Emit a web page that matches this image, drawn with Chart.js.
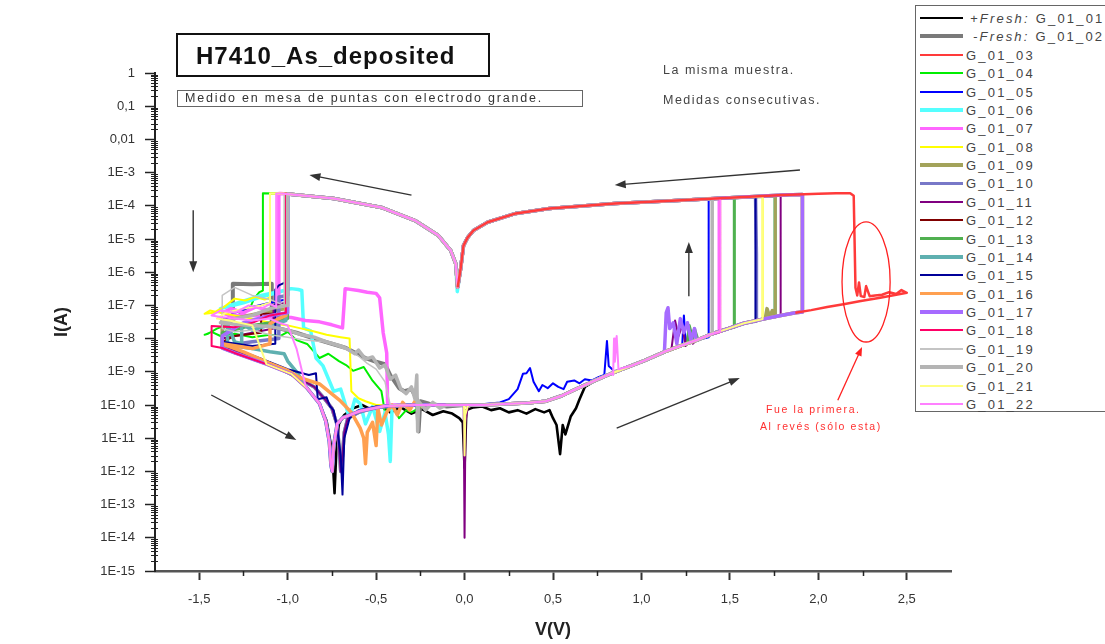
<!DOCTYPE html>
<html>
<head>
<meta charset="utf-8">
<script src="https://cdn.jsdelivr.net/npm/chart.js@4.4.0/dist/chart.umd.min.js"></script>
<style>
  html, body { margin: 0; padding: 0; background: #fff; overflow: hidden; }
  #wrap { position: relative; width: 1105px; height: 644px; font-family: "Liberation Sans", Arial, sans-serif; }
  #wrap canvas { position: absolute; left: 0; top: 0; }
  .note { position: absolute; white-space: nowrap; color: #333; line-height: 1; }
  #title { left: 176px; top: 33px; width: 310px; height: 40px; border: 2px solid #111; font-weight: bold; font-size: 24px; letter-spacing: 1px; color: #111; }
  #title span { position: absolute; left: 18px; top: 9px; }
  #sub { left: 177px; top: 90px; width: 404px; height: 15px; border: 1.5px solid #666; font-size: 12.5px; letter-spacing: 1.8px; }
  #sub span { position: absolute; left: 7px; top: 1px; }
  .grey { font-size: 12.5px; letter-spacing: 1.5px; color: #444; }
  .red { font-size: 10.5px; letter-spacing: 1.6px; color: #ff3030; }
  #legend { position: absolute; left: 915px; top: 5px; width: 200px; height: 405px; border: 1.5px solid #666; background: #fff; }
  .row { position: absolute; left: 0; height: 18px; width: 200px; }
  .row .smp { position: absolute; left: 4px; width: 43px; }
  .row .txt { position: absolute; left: 50px; top: 2px; font-size: 13px; letter-spacing: 2.2px; color: #444; white-space: nowrap; }
</style>
</head>
<body>
<div id="wrap">
  <canvas id="c" width="1105" height="644"></canvas>
  <div id="title" class="note"><span>H7410_As_deposited</span></div>
  <div id="sub" class="note"><span>Medido en mesa de puntas con electrodo grande.</span></div>
  <div class="note grey" style="left:663px; top:64px;">La misma muestra.</div>
  <div class="note grey" style="left:663px; top:94px;">Medidas consecutivas.</div>
  <div class="note red" style="left:766px; top:404px;">Fue la primera.</div>
  <div class="note red" style="left:760px; top:421px;">Al revés (sólo esta)</div>
  <div id="legend"></div>
</div>
<script>
// ---- tick labels ----
const xTicks = [-1.5, -1.0, -0.5, 0.0, 0.5, 1.0, 1.5, 2.0, 2.5];
const yTickValues = [1e-15, 1e-14, 1e-13, 1e-12, 1e-11, 1e-10, 1e-9, 1e-8, 1e-7, 1e-6, 1e-5, 1e-4, 1e-3, 0.01, 0.1, 1];
const yTickLabels = ['1E-15', '1E-14', '1E-13', '1E-12', '1E-11', '1E-10', '1E-9', '1E-8', '1E-7', '1E-6', '1E-5', '1E-4', '1E-3', '0,01', '0,1', '1'];

// ---- shared branches, [V, I] ----
const offPos = [[0,1.0e-10],[0.1,1.0e-10],[0.2,1.05e-10],[0.35,1.15e-10],[0.46,1.3e-10],[0.55,1.9e-10],[0.64,3.2e-10],[0.74,5.5e-10],[0.83,8.9e-10],[0.94,1.5e-9],[1.02,2.2e-9],[1.13,4.0e-9],[1.22,6.0e-9],[1.31,8.9e-9],[1.4,1.4e-8],[1.49,2.0e-8],[1.58,2.9e-8],[1.68,3.8e-8],[1.78,4.9e-8],[1.87,6.0e-8],[1.96,7.2e-8],[2.05,8.9e-8],[2.15,1.1e-7],[2.24,1.35e-7],[2.35,1.7e-7],[2.5,2.4e-7]];
const onPos = [[2.1,2.4e-4],[2.0,2.3e-4],[1.8,2.1e-4],[1.5,1.75e-4],[1.2,1.45e-4],[0.85,1.17e-4],[0.48,8.3e-5],[0.29,5.9e-5],[0.13,3.2e-5],[0.05,1.8e-5],[0.017,1.1e-5],[-0.006,6.3e-6],[-0.022,1.3e-6],[-0.039,3.5e-7]];
const onNeg = [[-0.05,1.8e-6],[-0.078,4.5e-6],[-0.15,1.3e-5],[-0.28,3.6e-5],[-0.47,8.9e-5],[-0.74,1.66e-4],[-0.9,2.0e-4],[-1.04,2.35e-4],[-1.15,2.4e-4]];
const retEnv = [[-1.37,5.2e-9],[-1.3,3.7e-9],[-1.12,1.7e-9],[-0.98,8.7e-10],[-0.89,3.2e-10],[-0.82,1.1e-10],[-0.785,3.3e-11],[-0.765,8e-12],[-0.755,1.5e-12],[-0.748,1e-12],[-0.74,6e-12],[-0.72,2.7e-11],[-0.69,4.1e-11],[-0.59,6.6e-11],[-0.45,9.3e-11],[-0.28,1.0e-10],[0,1.0e-10]];
const retShift = [[-1.37,6e-9],[-1.25,3.5e-9],[-1.1,1.8e-9],[-0.95,7e-10],[-0.85,3.5e-10],[-0.79,1.5e-10],[-0.75,8e-11],[-0.72,2.5e-11],[-0.71,6e-12],[-0.7,1e-12],[-0.69,3e-12],[-0.68,1.5e-11],[-0.66,4e-11],[-0.6,6e-11],[-0.5,8.5e-11],[-0.3,1e-10],[0,1e-10]];

// ---- per-measurement pieces ----
const fresh01 = [[-1.37,8e-9],[-1.3,4.5e-9],[-1.12,1.8e-9],[-0.98,8.7e-10],[-0.89,3.2e-10],[-0.82,1.1e-10],[-0.78,3.3e-11],[-0.756,6.6e-12],[-0.744,1.7e-12],[-0.735,2.2e-13],[-0.725,4e-12],[-0.71,2.7e-11],[-0.68,5e-11],[-0.63,8e-11],[-0.58,1e-10],[-0.52,7e-11],[-0.47,9e-11],[-0.42,6e-11],[-0.36,8.5e-11],[-0.3,5.5e-11],[-0.24,7.5e-11],[-0.18,5e-11],[-0.12,6.5e-11],[-0.07,5.5e-11],[-0.03,4e-11],[-0.01,3e-11],[0,1.3e-12],[0.01,7e-11],[0.05,8.5e-11],[0.1,9e-11],[0.15,7e-11],[0.2,8e-11],[0.25,6e-11],[0.3,7e-11],[0.35,5.5e-11],[0.4,7.5e-11],[0.45,6e-11],[0.48,7e-11],[0.5,4e-11],[0.52,2.5e-11],[0.54,3.3e-12],[0.555,2.5e-11],[0.57,1.3e-11],[0.6,4.5e-11],[0.63,8e-11],[0.65,1.5e-10],[0.68,3.5e-10],[0.74,5.5e-10]];
const fresh02 = [[0,1e-10],[-0.1,9e-11],[-0.2,1.1e-10],[-0.25,1.3e-10],[-0.26,1.6e-11],[-0.27,1.5e-10],[-0.3,3e-10],[-0.34,2.6e-10],[-0.37,3.2e-10],[-0.42,8e-10],[-0.45,1.7e-9],[-0.5,2e-9],[-0.56,2.6e-9],[-0.62,3.8e-9],[-0.67,5.2e-9],[-0.75,7e-9],[-0.85,1e-8],[-0.95,1.5e-8],[-1.06,2.1e-8],[-1.09,2.5e-8],[-1.09,4.5e-7],[-1.2,4.3e-7],[-1.31,4.5e-7],[-1.31,4.3e-8],[-1.38,3.5e-8]];
const back03 = [[2.47,2.9e-7],[2.44,2.2e-7],[2.4,2.5e-7],[2.36,2.1e-7],[2.32,2e-7],[2.29,1.9e-7],[2.27,3.8e-7],[2.26,1.8e-7],[2.24,1.9e-7],[2.23,4.9e-7],[2.22,2e-7],[2.21,3.4e-7],[2.2,2e-4],[2.18,2.4e-4],[2.1,2.4e-4]];
const set04 = [[1.525,2.2e-8],[1.525,1.75e-4]];
const reset04 = [[-1.14,2.4e-4],[-1.14,2.8e-7],[-1.16,2.5e-7],[-1.19,1.6e-7],[-1.21,9e-8],[-1.25,7e-8],[-1.3,4e-8],[-1.35,2.5e-8],[-1.4,2e-8],[-1.45,1.4e-8],[-1.47,1.3e-8],[-1.43,1.6e-8],[-1.38,1.2e-8],[-1.3,1.4e-8],[-1.2,1.1e-8],[-1.1,1.3e-8],[-1.04,1.2e-8],[-1.0,1.6e-8],[-0.95,9e-9],[-0.89,6.9e-9],[-0.85,4e-9],[-0.82,2.6e-9],[-0.77,3.5e-9],[-0.71,2.1e-9],[-0.67,1.6e-9],[-0.63,1.07e-9],[-0.57,1.4e-9],[-0.52,5.4e-10],[-0.47,2.6e-10],[-0.45,6e-11],[-0.41,1e-10],[-0.37,4e-11],[-0.33,7e-11],[-0.3,6e-11],[-0.23,1e-10],[0,1e-10]];
const low05 = [[0,1e-10],[0.1,1.05e-10],[0.2,1.2e-10],[0.25,1.5e-10],[0.3,3e-10],[0.33,8.7e-10],[0.35,9e-10],[0.37,1.3e-9],[0.39,5e-10],[0.42,2.6e-10],[0.44,4e-10],[0.47,3.2e-10],[0.5,4.5e-10],[0.53,3.5e-10],[0.56,3e-10],[0.58,5e-10],[0.62,5.5e-10],[0.65,4.5e-10],[0.68,6e-10],[0.72,5.5e-10],[0.76,7e-10],[0.79,8e-10],[0.805,8.5e-9],[0.815,1.5e-9],[0.85,1e-9]];
const noise05 = [[1.23,6e-9],[1.24,5e-8],[1.25,8e-9]];
const set05 = [[1.38,1.1e-8],[1.38,1.6e-4]];
const reset05 = [[-1.01,2.3e-4],[-1.01,1.5e-7],[-1.1,1.2e-7],[-1.2,9e-8],[-1.3,6e-8],[-1.37,3e-8]];
const set06 = [[1.756,4.6e-8],[1.756,2e-4]];
const dip06 = [[-0.041,2.6e-7]];
const reset06 = [[-1.0,2.25e-4],[-1.0,3e-7],[-1.05,2.5e-7],[-1.15,1.8e-7],[-1.25,1.2e-7],[-1.38,8e-8],[-1.3,1.1e-7],[-1.15,2e-7],[-1.02,2.8e-7],[-0.98,3.2e-7],[-0.94,3e-7],[-0.92,2.8e-7],[-0.91,2.1e-8],[-0.87,1.7e-8],[-0.84,2.6e-9],[-0.8,1.5e-9],[-0.74,2.6e-10],[-0.7,3e-10],[-0.65,4e-11],[-0.62,1.5e-10],[-0.59,1.1e-10],[-0.56,2.7e-11],[-0.52,9e-11],[-0.48,1.6e-11],[-0.45,6e-11],[-0.43,1.3e-11],[-0.42,2e-12],[-0.41,8e-11],[-0.38,1e-10],[0,1e-10]];
const set07 = [[1.44,1.6e-8],[1.44,1.7e-4]];
const reset07 = [[-1.05,2.35e-4],[-1.05,9e-8],[-1.1,7e-8],[-1.18,9e-8],[-1.25,6e-8],[-1.32,8e-8],[-1.37,6e-8],[-1.33,5e-8],[-1.2,5e-8],[-1.05,4.5e-8],[-0.98,4.3e-8],[-0.9,3.5e-8],[-0.82,3.2e-8],[-0.75,2.6e-8],[-0.69,2.1e-8],[-0.675,3.2e-7],[-0.6,2.8e-7],[-0.55,2.5e-7],[-0.5,2.3e-7],[-0.48,1.7e-7],[-0.46,1.5e-8],[-0.44,3.7e-9],[-0.435,1e-10],[0,1e-10]];
const set08 = [[1.685,3.9e-8],[1.685,1.9e-4]];
const reset08 = [[-1.1,2.35e-4],[-1.1,1.7e-7],[-1.13,1.5e-7],[-1.18,1.8e-7],[-1.24,1.4e-7],[-1.3,1.6e-7],[-1.36,9e-8],[-1.42,6e-8],[-1.47,5.6e-8],[-1.44,7e-8],[-1.38,6e-8],[-1.3,5e-8],[-1.2,4e-8],[-1.1,3e-8],[-1.0,2.5e-8],[-0.92,2e-8],[-0.86,1.7e-8],[-0.78,1.3e-8],[-0.7,1.1e-8],[-0.65,1e-8],[-0.64,2.6e-10],[-0.6,1.6e-10],[-0.56,1.3e-10],[-0.5,1e-10],[0,1e-10]];
const noise09 = [[1.7,4e-8],[1.71,8e-8],[1.725,4.5e-8],[1.74,7e-8]];
const set09 = [[1.756,4.6e-8],[1.756,2e-4]];
const reset09 = [[-1.01,2.3e-4],[-1.01,8e-8],[-1.15,6e-8],[-1.3,4e-8],[-1.37,2e-8]];
const set10 = [[1.65,3.4e-8],[1.65,3.6e-6],[1.645,1.88e-4]];
const reset10 = [[-1.0,2.25e-4],[-1.0,2e-7],[-1.05,1.8e-7],[-1.05,1e-8],[-1.2,8e-9],[-1.37,6e-9]];
const start11 = [[-0.005,1e-10],[0,1e-14],[0.005,3e-11],[0.02,1e-10]];
const noise11 = [[1.17,5e-9],[1.19,3.5e-8],[1.21,1.2e-8],[1.23,2.5e-8],[1.25,6e-9],[1.27,2e-8],[1.29,7e-9]];
const set11 = [[1.787,5e-8],[1.787,2e-4]];
const reset11 = [[-1.01,2.3e-4],[-1.01,1.2e-7],[-1.08,1e-7],[-1.08,2e-8],[-1.2,1.5e-8],[-1.37,1e-8]];
const set12 = [[1.91,6.3e-8],[1.91,2.2e-4]];
const reset12 = [[-1.01,2.3e-4],[-1.01,5.6e-8],[-1.15,5.6e-8],[-1.15,1.5e-8],[-1.3,1.2e-8],[-1.37,8e-9]];
const noise13 = [[1.26,7e-9],[1.27,2.5e-8],[1.29,1e-8],[1.3,2e-8],[1.32,9e-9]];
const set13 = [[1.525,2.2e-8],[1.525,1.75e-4]];
const reset13 = [[-1.0,2.25e-4],[-1.0,4e-8],[-1.1,3e-8],[-1.2,2.5e-8],[-1.37,1.5e-8]];
const set14 = [[1.91,6.3e-8],[1.91,2.2e-4]];
const reset14 = [[-1.01,2.3e-4],[-1.01,3.5e-8],[-1.05,3e-8],[-1.1,2.5e-8],[-1.15,2.2e-8],[-1.2,1.8e-8],[-1.26,2.8e-8],[-1.26,7e-9],[-1.3,8e-9],[-1.34,2.8e-8],[-1.34,7e-9],[-1.37,6e-9],[-1.3,6e-9],[-1.2,5e-9],[-1.1,4e-9],[-1.02,3.5e-9],[-1.0,2.1e-9],[-0.95,1e-9]];
const set15 = [[1.645,3.3e-8],[1.645,1.88e-4]];
const reset15 = [[-1.01,2.3e-4],[-1.01,5e-7],[-1.05,4e-7],[-1.07,3e-7],[-1.07,7e-9],[-1.2,6e-9],[-1.37,8e-9],[-1.3,5e-9],[-1.15,2.5e-9],[-1.0,1.2e-9],[-0.88,8e-10],[-0.84,9e-10],[-0.83,1.5e-10],[-0.78,1.7e-10],[-0.76,9e-11],[-0.74,7e-11],[-0.72,2e-11],[-0.7,3e-12],[-0.69,2e-13],[-0.68,1e-11],[-0.65,4e-11],[-0.6,7e-11],[-0.5,9e-11],[0,1e-10]];
const set16 = [[1.91,6.3e-8],[1.91,2.2e-4]];
const reset16 = [[-1.01,2.3e-4],[-1.01,5e-8],[-1.05,4e-8],[-1.1,2.8e-8],[-1.1,7e-9],[-1.2,5e-9],[-1.37,7e-9],[-1.25,4e-9],[-1.1,1.8e-9],[-1.0,1.1e-9],[-0.93,6.6e-10],[-0.82,4.3e-10],[-0.7,1.3e-10],[-0.64,6e-11],[-0.59,2e-11],[-0.57,1e-11],[-0.56,1.7e-12],[-0.55,1.5e-11],[-0.52,3e-11],[-0.5,6e-12],[-0.49,8e-11],[-0.47,2.5e-11],[-0.44,6e-11],[-0.41,1e-10],[-0.38,5e-11],[-0.35,1.2e-10],[-0.31,7e-11],[-0.28,1.3e-10],[-0.24,9e-11],[-0.2,1e-10],[0,1e-10]];
const noise17 = [[1.14,6e-8],[1.15,8.5e-8],[1.16,2e-8],[1.18,3e-8],[1.2,7e-9],[1.22,4e-8],[1.24,1.5e-8],[1.26,3e-8],[1.28,9e-9],[1.3,2e-8]];
const set17 = [[1.91,6.3e-8],[1.91,2.2e-4]];
const reset17 = [[-1.0,2.25e-4],[-1.0,6e-8],[-1.1,5e-8],[-1.25,3e-8],[-1.37,1.2e-8]];
const set18 = [[1.445,1.6e-8],[1.445,1.7e-4]];
const reset18 = [[-1.01,2.3e-4],[-1.01,6e-8],[-1.1,5e-8],[-1.2,3e-8],[-1.3,2.2e-8],[-1.43,2.4e-8],[-1.43,6e-9],[-1.37,5.2e-9]];
const set19 = [[1.4,1.4e-8],[1.4,1.65e-4]];
const reset19 = [[-1.02,2.3e-4],[-1.02,1e-7],[-1.1,1.5e-7],[-1.2,2e-7],[-1.3,3.5e-7],[-1.37,2e-7],[-1.37,2e-8],[-1.3,1.6e-8],[-1.2,1.8e-8],[-1.1,1.3e-8],[-1.0,1.1e-8],[-0.9,9e-9],[-0.8,8e-9],[-0.72,6e-9],[-0.66,4.5e-9],[-0.6,3e-9],[-0.55,1.8e-9],[-0.5,1.2e-9],[-0.45,5e-10],[-0.42,1e-10],[0,1e-10]];
const set20 = [[1.4,1.4e-8],[1.4,1.65e-4]];
const reset20 = [[-1.0,2.25e-4],[-1.0,1e-7],[-1.1,8e-8],[-1.2,5e-8],[-1.3,4e-8],[-1.38,3e-8],[-1.3,2.7e-8],[-1.2,2.5e-8],[-1.1,2.3e-8],[-1.0,1.8e-8],[-0.92,1.3e-8],[-0.85,1.1e-8],[-0.78,8e-9],[-0.7,6e-9],[-0.66,4.8e-9],[-0.62,3.5e-9],[-0.6,4.5e-9],[-0.56,2.4e-9],[-0.52,2.8e-9],[-0.48,1.3e-9],[-0.45,1.6e-9],[-0.42,6e-10],[-0.39,8e-10],[-0.36,3e-10],[-0.33,2.2e-10],[-0.3,3.5e-10],[-0.28,1.5e-10],[-0.27,8e-10],[-0.265,1.6e-11],[-0.26,1.3e-10],[-0.22,7e-11],[-0.18,1.2e-10],[-0.14,8e-11],[-0.1,1e-10],[0,1e-10]];
const start21 = [[-0.003,1e-10],[0,3e-12],[0.004,5e-11],[0.02,1e-10]];
const set21 = [[1.685,3.9e-8],[1.685,1.9e-4]];
const reset21 = [[-1.1,2.35e-4],[-1.1,1.2e-7],[-1.15,1e-7],[-1.25,8e-8],[-1.35,6e-8],[-1.4,4e-8],[-1.33,3.5e-8],[-1.2,2.5e-8]];
const spike22 = [[0.84,8e-10],[0.845,1e-8],[0.85,2e-9],[0.86,1.2e-8],[0.87,1.2e-9]];
const set22 = [[1.445,1.6e-8],[1.445,1.7e-4]];
const reset22 = [[-1.065,2.35e-4],[-1.065,9e-8],[-1.1,1.1e-7],[-1.15,8e-8],[-1.22,1e-7],[-1.3,6e-8],[-1.38,7e-8],[-1.43,5e-8],[-1.38,4.5e-8],[-1.3,4e-8],[-1.2,3.5e-8],[-1.1,4e-8],[-1.05,3e-8],[-1.0,2.5e-8],[-0.95,5e-9],[-0.9,4e-10]];

// ---- legend names and styles ----
const names = ['+Fresh: G_01_01', '-Fresh: G_01_02', 'G_01_03', 'G_01_04', 'G_01_05', 'G_01_06', 'G_01_07', 'G_01_08', 'G_01_09', 'G_01_10', 'G_01_11', 'G_01_12', 'G_01_13', 'G_01_14', 'G_01_15', 'G_01_16', 'G_01_17', 'G_01_18', 'G_01_19', 'G_01_20', 'G_01_21', 'G_01_22'];
const colors = ['#000000', '#7a7a7a', '#ff3a3a', '#00ee00', '#0000ff', '#55ffff', '#ff66ff', '#ffff00', '#a3a35a', '#7878c8', '#800080', '#800000', '#50b050', '#5fb0b0', '#000099', '#ffa050', '#a66bff', '#ff0066', '#c4c4c4', '#b4b4b4', '#ffff80', '#ff80ff'];
const widths = [2.6, 4, 2.5, 2, 2, 3.5, 3.5, 2, 3.5, 3.5, 2, 2, 3, 3.5, 2, 3.5, 3.5, 2, 1.5, 3.5, 2, 2];

// arrows and the red ellipse, in data units [V0, I0, V1, I1]
const arrows = [[-0.30, 2.1e-4, -0.877, 8.5e-4], [1.896, 1.2e-3, 0.849, 4.2e-4], [-1.534, 7.4e-5, -1.534, 1.0e-6], [1.268, 1.9e-7, 1.268, 8.1e-6], [-1.432, 2e-10, -0.951, 8.9e-12], [0.86, 2e-11, 1.556, 6.5e-10]];
const redArrow = [2.11, 1.4e-10, 2.247, 5.6e-9];
const ellipseBox = [2.134, 2.406, 7.9e-9, 3.3e-5];

function seg(arr, lo, hi) { return arr.filter(p => p[0] >= lo && p[0] <= hi); }

const paths = [
  [...fresh01, ...seg(offPos, 0.8, 1.31)],
  fresh02,
  [...seg(offPos, 1.85, 2.5), ...back03, ...seg(onPos, -0.04, 2.05)],
  [...seg(offPos, 0, 1.49), ...set04, ...seg(onPos, -0.04, 1.52), ...seg(onNeg, -1.13, 0), ...reset04],
  [...low05, ...seg(offPos, 0.9, 1.22), ...noise05, ...seg(offPos, 1.3, 1.31), ...set05, ...seg(onPos, -0.04, 1.37), ...seg(onNeg, -1.0, 0), ...reset05, ...retEnv],
  [...seg(offPos, 0, 1.68), ...set06, ...seg(onPos, -0.03, 1.75), ...dip06, ...seg(onNeg, -0.99, 0), ...reset06],
  [...seg(offPos, 0, 1.4), ...set07, ...seg(onPos, -0.04, 1.43), ...seg(onNeg, -1.045, 0), ...reset07],
  [...seg(offPos, 0, 1.68), ...set08, ...seg(onPos, -0.04, 1.68), ...seg(onNeg, -1.09, 0), ...reset08],
  [...seg(offPos, 0, 1.68), ...noise09, ...set09, ...seg(onPos, -0.04, 1.75), ...seg(onNeg, -1.0, 0), ...reset09, ...retShift],
  [...seg(offPos, 0, 1.58), ...set10, ...seg(onPos, -0.04, 1.64), ...seg(onNeg, -0.99, 0), ...reset10, ...retShift],
  [...start11, ...seg(offPos, 0.1, 1.13), ...noise11, ...seg(offPos, 1.31, 1.78), ...set11, ...seg(onPos, -0.04, 1.78), ...seg(onNeg, -1.0, 0), ...reset11, ...retShift],
  [...seg(offPos, 0, 1.87), ...set12, ...seg(onPos, -0.04, 1.9), ...seg(onNeg, -1.0, 0), ...reset12, ...retEnv],
  [...seg(offPos, 0, 1.22), ...noise13, ...seg(offPos, 1.4, 1.49), ...set13, ...seg(onPos, -0.04, 1.52), ...seg(onNeg, -0.99, 0), ...reset13, ...retEnv],
  [...seg(offPos, 0, 1.87), ...set14, ...seg(onPos, -0.04, 1.9), ...seg(onNeg, -1.0, 0), ...reset14, ...seg(retEnv, -0.89, 0)],
  [...seg(offPos, 0, 1.58), ...set15, ...seg(onPos, -0.04, 1.64), ...seg(onNeg, -1.0, 0), ...reset15],
  [...seg(offPos, 0, 1.87), ...set16, ...seg(onPos, -0.04, 1.9), ...seg(onNeg, -1.0, 0), ...reset16],
  [...seg(offPos, 0, 1.13), ...noise17, ...seg(offPos, 1.31, 1.87), ...set17, ...seg(onPos, -0.04, 1.9), ...seg(onNeg, -0.99, 0), ...reset17, ...retEnv],
  [...seg(offPos, 0, 1.4), ...set18, ...seg(onPos, -0.04, 1.44), ...seg(onNeg, -1.0, 0), ...reset18, ...seg(retEnv, -1.3, 0)],
  [...seg(offPos, 0, 1.31), ...set19, ...seg(onPos, -0.04, 1.39), ...seg(onNeg, -1.01, 0), ...reset19],
  [...seg(offPos, 0, 1.31), ...set20, ...seg(onPos, -0.04, 1.39), ...seg(onNeg, -0.99, 0), ...reset20],
  [...start21, ...seg(offPos, 0.1, 1.68), ...set21, ...seg(onPos, -0.04, 1.68), ...seg(onNeg, -1.09, 0), ...reset21, ...seg(retEnv, -1.12, 0)],
  [...seg(offPos, 0, 0.83), ...spike22, ...seg(offPos, 0.94, 1.4), ...set22, ...seg(onPos, -0.04, 1.44), ...seg(onNeg, -1.05, 0), ...reset22, ...seg(retEnv, -0.89, 0)]
];

const datasets = names.map((n, i) => ({
  label: n,
  data: paths[i].map(p => ({ x: p[0], y: p[1] })),
  showLine: true,
  borderColor: colors[i],
  backgroundColor: colors[i],
  borderWidth: widths[i],
  borderJoinStyle: 'round',
  pointRadius: 0,
  tension: 0,
  // later measurements on top, the first one (G_01_03) above all
  order: i === 2 ? 0 : 100 - i
}));

const FONT = '"Liberation Sans", Arial, sans-serif';

function arrow(ctx, x0, y0, x1, y1, col, lw, hl, hw) {
  const a = Math.atan2(y1 - y0, x1 - x0);
  ctx.strokeStyle = col; ctx.fillStyle = col; ctx.lineWidth = lw;
  ctx.beginPath(); ctx.moveTo(x0, y0);
  ctx.lineTo(x1 - Math.cos(a) * hl * 0.8, y1 - Math.sin(a) * hl * 0.8); ctx.stroke();
  ctx.beginPath(); ctx.moveTo(x1, y1);
  ctx.lineTo(x1 - hl * Math.cos(a) + hw * Math.sin(a), y1 - hl * Math.sin(a) - hw * Math.cos(a));
  ctx.lineTo(x1 - hl * Math.cos(a) - hw * Math.sin(a), y1 - hl * Math.sin(a) + hw * Math.cos(a));
  ctx.closePath(); ctx.fill();
}

const extras = {
  id: 'extras',
  afterDraw(chart) {
    const { ctx, scales: { x, y }, chartArea } = chart;
    ctx.save();
    // minor ticks
    ctx.strokeStyle = '#222'; ctx.lineWidth = 1;
    for (let d = -15; d < 0; d++) {
      for (let m = 2; m <= 9; m++) {
        const py = Math.round(y.getPixelForValue(m * Math.pow(10, d))) + 0.5;
        ctx.beginPath(); ctx.moveTo(chartArea.left - 4, py); ctx.lineTo(chartArea.left + 3, py); ctx.stroke();
      }
    }
    ctx.lineWidth = 1.5;
    for (let v = -1.25; v <= 2.3; v += 0.5) {
      const px = Math.round(x.getPixelForValue(v)) + 0.5;
      ctx.beginPath(); ctx.moveTo(px, chartArea.bottom); ctx.lineTo(px, chartArea.bottom + 5); ctx.stroke();
    }
    // arrows
    arrows.forEach(a => {
      arrow(ctx, x.getPixelForValue(a[0]), y.getPixelForValue(a[1]), x.getPixelForValue(a[2]), y.getPixelForValue(a[3]), '#333', 1.4, 11, 4);
    });
    arrow(ctx, x.getPixelForValue(redArrow[0]), y.getPixelForValue(redArrow[1]), x.getPixelForValue(redArrow[2]), y.getPixelForValue(redArrow[3]), '#ff2020', 1.3, 9, 3.5);
    // ellipse
    const ex0 = x.getPixelForValue(ellipseBox[0]), ex1 = x.getPixelForValue(ellipseBox[1]);
    const ey0 = y.getPixelForValue(ellipseBox[2]), ey1 = y.getPixelForValue(ellipseBox[3]);
    ctx.strokeStyle = '#ff2020'; ctx.lineWidth = 1.3;
    ctx.beginPath();
    ctx.ellipse((ex0 + ex1) / 2, (ey0 + ey1) / 2, Math.abs(ex1 - ex0) / 2, Math.abs(ey1 - ey0) / 2, 0, 0, Math.PI * 2);
    ctx.stroke();
    ctx.restore();
  }
};

const chart = new Chart(document.getElementById('c'), {
  type: 'scatter',
  data: { datasets },
  options: {
    responsive: false,
    animation: false,
    layout: { padding: { left: 40, top: 73, right: 154, bottom: 0 } },
    plugins: { legend: { display: false }, tooltip: { enabled: false } },
    scales: {
      x: {
        type: 'linear', min: -1.75, max: 2.75,
        afterBuildTicks: s => { s.ticks = xTicks.map(v => ({ value: v })); },
        afterFit: s => { s.height = 73; },
        ticks: { autoSkip: false, maxRotation: 0, padding: 12, color: '#333', font: { family: FONT, size: 13 },
          callback: v => v.toFixed(1).replace('.', ',') },
        grid: { drawOnChartArea: false, drawTicks: true, tickLength: 9, tickColor: '#333', tickWidth: 2 },
        border: { display: true, color: '#555', width: 2.5 },
        title: { display: true, text: 'V(V)', color: '#222', font: { family: FONT, size: 18, weight: 'bold' }, padding: { top: 0, bottom: 3 } }
      },
      y: {
        type: 'logarithmic', min: 1e-15, max: 1,
        afterBuildTicks: s => { s.ticks = yTickValues.map(v => ({ value: v })); },
        afterFit: s => { s.width = 115; },
        ticks: { autoSkip: false, padding: 10, color: '#333', font: { family: FONT, size: 13 },
          callback: (v, i) => yTickLabels[i] },
        grid: { drawOnChartArea: false, drawTicks: true, tickLength: 10, tickColor: '#222', tickWidth: 1.5 },
        border: { display: true, color: '#222', width: 2 },
        title: { display: true, text: 'I(A)', color: '#222', font: { family: FONT, size: 18, weight: 'bold' }, padding: { top: 11, bottom: 0 } }
      }
    }
  },
  plugins: [extras]
});

// HTML legend built from the chart's datasets
const legend = document.getElementById('legend');
chart.data.datasets.forEach((ds, i) => {
  const row = document.createElement('div');
  row.className = 'row';
  row.style.top = (3 + i * 18.38) + 'px';
  const smp = document.createElement('div');
  smp.className = 'smp';
  smp.style.top = (9 - ds.borderWidth / 2) + 'px';
  smp.style.height = ds.borderWidth + 'px';
  smp.style.background = ds.borderColor;
  const txt = document.createElement('div');
  txt.className = 'txt';
  const parts = ds.label.split(': ');
  if (parts.length === 2) {
    const it = document.createElement('i');
    it.textContent = parts[0] + ':';
    txt.appendChild(it);
    txt.appendChild(document.createTextNode(' ' + parts[1]));
    txt.style.left = (i === 0 ? 54 : 57) + 'px';
  } else {
    txt.textContent = ds.label;
  }
  row.appendChild(smp);
  row.appendChild(txt);
  legend.appendChild(row);
});
</script>
</body>
</html>
